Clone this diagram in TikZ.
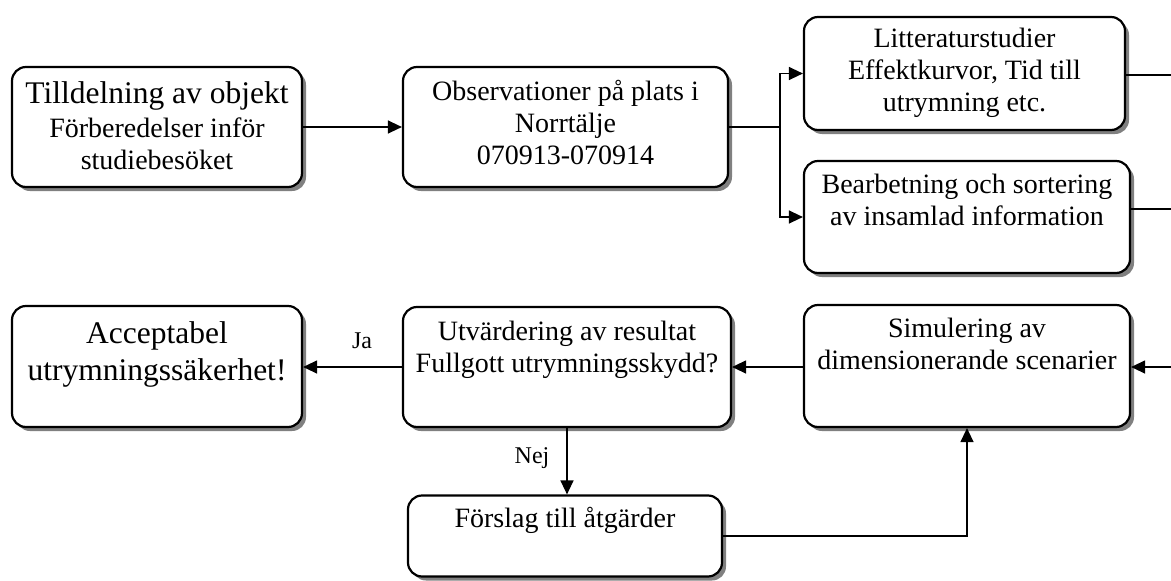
\documentclass[tikz,border=0pt]{standalone}
\usepackage{fontspec}
\setmainfont{Liberation Serif}
\usetikzlibrary{arrows.meta,shadows}
\begin{document}
\begin{tikzpicture}[x=1pt,y=-1pt,
  box/.style={draw=black, line width=2.2pt, rounded corners=14pt, fill=white, inner sep=0pt,
     drop shadow={shadow xshift=4pt, shadow yshift=-4pt, fill=black!50, opacity=1}},
  txt/.style={align=center, anchor=north, inner sep=0pt, font=\fontsize{28}{32}\selectfont},
  bigtxt/.style={align=center, anchor=north, inner sep=0pt, font=\fontsize{31.5}{37}\selectfont},
  lbl/.style={anchor=base, inner sep=0pt, font=\fontsize{24}{28}\selectfont},
  conn/.style={line width=1.3pt},
  arr/.style={conn, -{Triangle[length=14pt,width=13pt]}}
]
\useasboundingbox (0,0) rectangle (1171,581);

% boxes
\node[box, minimum width=290pt, minimum height=120pt] (b1) at (157,127) {};
\node[box, minimum width=325pt, minimum height=120pt] (b2) at (565.5,127) {};
\node[box, minimum width=321pt, minimum height=113pt] (b3) at (964.5,73.5) {};
\node[box, minimum width=326pt, minimum height=112pt] (b4) at (967,217) {};
\node[box, minimum width=290pt, minimum height=121pt] (b5) at (157,366.5) {};
\node[box, minimum width=328pt, minimum height=120pt] (b6) at (567,367) {};
\node[box, minimum width=326pt, minimum height=122pt] (b7) at (967,366) {};
\node[box, minimum width=314pt, minimum height=81pt] (b8) at (565,536) {};

% texts
\node[txt] (t1) at (157,81) {{\fontsize{31.5}{37}\selectfont\rule{0pt}{22pt}Tilldelning av objekt}\\[2pt] Förberedelser inför\\ studiebesöket};
\node[txt] (t2) at (565.5,78) {\rule{0pt}{22pt}Observationer på plats i\\ Norrtälje\\ 070913-070914};
\node[txt] (t3) at (964.5,25) {\rule{0pt}{22pt}Litteraturstudier\\ Effektkurvor, Tid till\\ utrymning etc.};
\node[txt] (t4) at (967,171) {\rule{0pt}{22pt}Bearbetning och sortering\\ av insamlad information};
\node[bigtxt] (t5) at (157,318) {\rule{0pt}{25pt}Acceptabel\\ utrymningssäkerhet!};
\node[txt] (t6) at (567,318) {\rule{0pt}{22pt}Utvärdering av resultat\\ Fullgott utrymningsskydd?};
\node[txt] (t7) at (967,315) {\rule{0pt}{22pt}Simulering av\\ dimensionerande scenarier};
\node[txt] (t8) at (565,505) {\rule{0pt}{22pt}Förslag till åtgärder};

% connectors
\coordinate (split) at (780,127);
\coordinate (r1) at (1171,75);
\coordinate (r2) at (1171,209);
\coordinate (r3) at (1171,367);

\draw[arr] (b1.east) -- (b2.west);
\draw[conn] (b2.east) -- (split);
\draw[arr] (split) |- (b3.west);
\draw[arr] (split) |- (b4.west);
\draw[conn] (b3.east |- r1) -- (r1);
\draw[conn] (b4.east |- r2) -- (r2);
\draw[arr] (r3) -- (b7.east |- r3);
\draw[arr] (b7.west |- b6.east) -- (b6.east);
\draw[arr] (b6.west) -- (b5.east |- b6.west);
\draw[arr] (b6.south) -- (b6.south |- b8.north);
\draw[arr] (b8.east) -| (b7.south);

% labels
\node[lbl] (ja) at (362,348) {Ja};
\node[lbl] (nej) at (532,463) {Nej};
\end{tikzpicture}
\end{document}
